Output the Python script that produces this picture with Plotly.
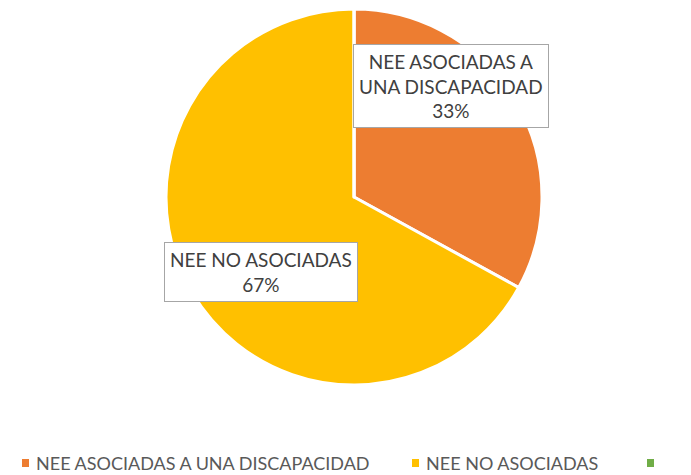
import plotly.graph_objects as go

labels = ["NEE ASOCIADAS A UNA DISCAPACIDAD", "NEE NO ASOCIADAS", "OTRAS"]
values = [33, 67, 0]
colors = ["#ED7D31", "#FFC000", "#70AD47"]
box_text = ["NEE ASOCIADAS A<br>UNA DISCAPACIDAD", "NEE NO ASOCIADAS"]

W, H = 691, 475
fig = go.Figure()
fig.add_trace(go.Pie(
    labels=labels, values=values, sort=False, direction="clockwise", rotation=0,
    marker=dict(colors=colors, line=dict(color="white", width=3)),
    textinfo="none", hoverinfo="label+percent", showlegend=False,
    domain=dict(x=[166 / W, 542 / W], y=[1 - 385 / H, 1 - 9 / H]),
))

total = sum(values)
pct = [round(v / total * 100) for v in values]
# data label boxes (pixel anchors)
box_pos = [(451, 86), (261, 272)]
for i, (px, py) in enumerate(box_pos):
    fig.add_annotation(
        x=px / W, y=1 - py / H, xref="paper", yref="paper",
        xanchor="center", yanchor="middle",
        text=f"{box_text[i]}<br>{pct[i]}%", showarrow=False,
        font=dict(family="Lato, Open Sans, sans-serif", size=19, color="#404040"),
        bgcolor="white", bordercolor="#A6A6A6", borderwidth=1,
        borderpad=5, align="center",
    )

# custom legend
leg_x = [22, 412, 647]
leg_y = 463
for i, lx in enumerate(leg_x):
    fig.add_shape(type="rect", xref="paper", yref="paper",
                  x0=lx / W, x1=(lx + 7) / W, y0=1 - (leg_y + 4) / H, y1=1 - (leg_y - 4) / H,
                  fillcolor=colors[i], line=dict(width=0))
    if i < 2:
        fig.add_annotation(x=(lx + 12) / W, y=1 - leg_y / H, xref="paper", yref="paper",
                           xanchor="left", yanchor="middle", showarrow=False,
                           text=labels[i],
                           font=dict(family="Lato, Open Sans, sans-serif", size=18, color="#595959"))

fig.update_layout(width=W, height=H, margin=dict(l=0, r=0, t=0, b=0),
                  paper_bgcolor="white", plot_bgcolor="white")
fig.write_html("out.html", config={"displayModeBar": False},
               post_script="document.body.style.margin='0';document.body.style.overflow='hidden';")
